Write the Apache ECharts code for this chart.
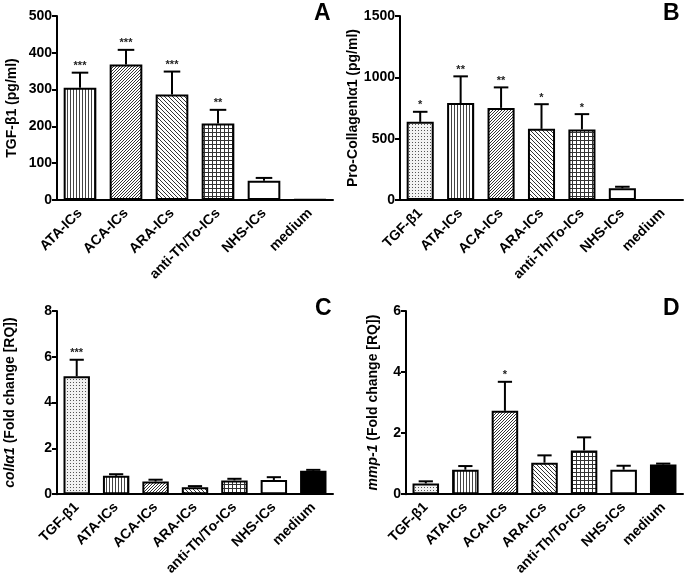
<!DOCTYPE html>
<html><head><meta charset="utf-8">
<script src="https://cdn.jsdelivr.net/npm/echarts@6/dist/echarts.min.js"></script>
<style>html,body{margin:0;padding:0;background:#fff}#c{width:685px;height:578px}</style>
</head><body><div id="c"></div>
<script>
// ---- data ----
const catsA = ['ATA-ICs','ACA-ICs','ARA-ICs','anti-Th/To-ICs','NHS-ICs','medium'];
const valsA = [305, 368, 287, 208, 52, 2];
const upperA = [346, 408, 349, 245, 60, 2];
const starsA = ['***','***','***','**','',''];

const catsB = ['TGF-β1','ATA-ICs','ACA-ICs','ARA-ICs','anti-Th/To-ICs','NHS-ICs','medium'];
const valsB = [637, 790, 751, 580, 575, 95, 0];
const upperB = [719, 1008, 918, 781, 700, 108, 0];
const starsB = ['*','**','**','*','*','',''];

const catsC = ['TGF-β1','ATA-ICs','ACA-ICs','ARA-ICs','anti-Th/To-ICs','NHS-ICs','medium'];
const valsC = [5.15, 0.80, 0.55, 0.30, 0.60, 0.62, 1.02];
const upperC = [5.87, 0.87, 0.63, 0.35, 0.67, 0.74, 1.06];
const starsC = ['***','','','','','',''];

const catsD = ['TGF-β1','ATA-ICs','ACA-ICs','ARA-ICs','anti-Th/To-ICs','NHS-ICs','medium'];
const valsD = [0.35, 0.80, 2.73, 1.03, 1.43, 0.80, 0.97];
const upperD = [0.42, 0.92, 3.68, 1.27, 1.86, 0.93, 1.00];
const starsD = ['','','*','','','',''];

const yTicksA = [0, 500, 100];
const yTicksB = [0, 1500, 500];
const yTicksC = [0, 8, 2];
const yTicksD = [0, 6, 2];

const titles = ['TGF-β1 (pg/ml)', 'Pro-CollagenIα1 (pg/ml)', '{i|colIα1} (Fold change [RQ])', '{i|mmp-1} (Fold change [RQ])'];
const letters = ['A','B','C','D'];

// ---- patterns ----
function pat(w, h, pts, bg, fg) {
  const c = document.createElement('canvas'); c.width = w; c.height = h;
  const g = c.getContext('2d'); g.fillStyle = bg; g.fillRect(0,0,w,h);
  g.fillStyle = fg; pts.forEach(p => g.fillRect(p[0], p[1], 1, 1));
  return {image: c, repeat: 'repeat'};
}
const patterns = {
  'TGF-β1': pat(3,3,[[1,1]],'#f2f2f2','#555'),
  'ATA-ICs': pat(3,1,[[1,0]],'#fff','#444'),
  'ACA-ICs': pat(3,3,[[2,0],[1,1],[0,2]],'#fff','#333'),
  'ARA-ICs': pat(4,4,[[0,0],[1,1],[2,2],[3,3]],'#fff','#333'),
  'anti-Th/To-ICs': pat(4,4,[[0,0],[1,0],[2,0],[3,0],[0,1],[0,2],[0,3]],'#fff','#333'),
  'NHS-ICs': '#fff',
  'medium': '#000'
};

const FONT = "'Liberation Sans', Arial, Helvetica, sans-serif";
const FS = 14;
const grids = [
  {left: 57, top: 16, right: 352, bottom: 378},
  {left: 400, top: 16, right: 2, bottom: 378},
  {left: 57, top: 311, right: 352, bottom: 82},
  {left: 406, top: 311, right: 2, bottom: 82}
];
const nameGaps = [38, 37, 40, 26];
const panels = [
  [catsA, valsA, upperA, starsA, yTicksA],
  [catsB, valsB, upperB, starsB, yTicksB],
  [catsC, valsC, upperC, starsC, yTicksC],
  [catsD, valsD, upperD, starsD, yTicksD]
];

const xAxis = [], yAxis = [], series = [];
panels.forEach((p, i) => {
  const [cats, vals, upper, stars, yt] = p;
  xAxis.push({
    type: 'category', gridIndex: i, data: cats,
    axisLine: {lineStyle: {color: '#000', width: 2}},
    axisTick: {alignWithLabel: true, length: 5, lineStyle: {color: '#000', width: 2}},
    axisLabel: {rotate: 45, interval: 0, margin: 11, color: '#000', fontFamily: FONT, fontWeight: 'bold', fontSize: FS}
  });
  yAxis.push({
    type: 'value', gridIndex: i, min: yt[0], max: yt[1], interval: yt[2],
    splitLine: {show: false},
    axisLine: {show: true, lineStyle: {color: '#000', width: 2}},
    axisTick: {show: true, length: 5, lineStyle: {color: '#000', width: 2}},
    axisLabel: {color: '#000', fontFamily: FONT, fontWeight: 'bold', fontSize: FS, margin: 5,
      formatter: v => String(v)},
    name: titles[i], nameLocation: 'middle', nameGap: nameGaps[i],
    nameTextStyle: {color: '#000', fontFamily: FONT, fontWeight: 'bold', fontSize: FS,
      rich: {i: {fontStyle: 'italic', fontWeight: 'bold', fontFamily: FONT, fontSize: FS, color: '#000'}}}
  });
  series.push({
    type: 'bar', xAxisIndex: i, yAxisIndex: i, barWidth: i === 0 ? '71%' : '67%',
    data: vals.map((v, k) => ({value: v, itemStyle: {color: patterns[cats[k]], borderColor: '#000', borderWidth: 2}})),
    animation: false
  });
  series.push({
    type: 'custom', xAxisIndex: i, yAxisIndex: i, z: 5, animation: false,
    data: vals.map((v, k) => [k, v, upper[k], stars[k]]),
    renderItem: function (params, api) {
      const k = api.value(0), v = api.value(1), u = api.value(2);
      const star = stars[k];
      const p0 = api.coord([k, v]), p1 = api.coord([k, u]);
      const band = api.size([1, 0])[0];
      const hw = band * 0.18;
      const ch = [];
      if (u > v) {
        ch.push({type: 'line', shape: {x1: p0[0], y1: p0[1], x2: p1[0], y2: p1[1]}, style: {stroke: '#000', lineWidth: 2}});
        ch.push({type: 'line', shape: {x1: p1[0] - hw, y1: p1[1], x2: p1[0] + hw, y2: p1[1]}, style: {stroke: '#000', lineWidth: 2}});
      }
      if (star) {
        ch.push({type: 'text', x: p1[0], y: p1[1] - 1, style: {text: star, fill: '#222', font: 'bold 11px ' + FONT, align: 'center', verticalAlign: 'bottom'}});
      }
      return {type: 'group', children: ch};
    }
  });
});

const letterPos = [[314, 2], [663, 2], [315, 297], [663, 297]];
const graphic = letters.map((l, i) => ({
  type: 'text', left: letterPos[i][0], top: letterPos[i][1],
  style: {text: l, fill: '#000', font: 'bold 23px ' + FONT}
}));

const chart = echarts.init(document.getElementById('c'), null, {renderer: 'canvas'});
chart.setOption({
  animation: false,
  backgroundColor: '#fff',
  grid: grids.map(g => Object.assign({containLabel: false}, g)),
  xAxis, yAxis, series, graphic
});
</script></body></html>
